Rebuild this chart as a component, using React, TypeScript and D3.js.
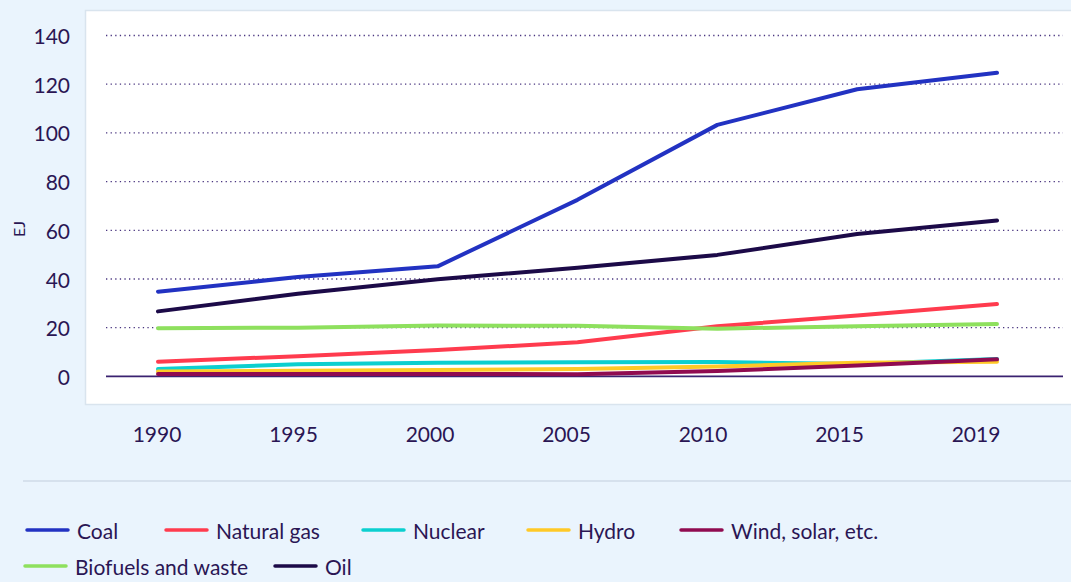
import React from "react";
import * as d3 from "d3";

const years = ["1990", "1995", "2000", "2005", "2010", "2015", "2019"];
const yTicks = [0, 20, 40, 60, 80, 100, 120, 140];

const coal = [34.8, 40.8, 45.2, 72.5, 103.3, 117.9, 124.7];
const naturalGas = [6.0, 8.3, 10.8, 14.0, 20.6, 25.0, 29.7];
const nuclear = [3.0, 5.0, 5.6, 5.8, 5.9, 5.1, 7.1];
const hydro = [2.0, 2.3, 2.6, 3.0, 4.1, 5.6, 6.0];
const windSolar = [1.0, 1.0, 1.0, 0.9, 2.2, 4.5, 7.0];
const biofuels = [19.8, 20.0, 20.9, 20.8, 19.6, 20.6, 21.5];
const oil = [26.7, 33.9, 39.9, 44.6, 49.9, 58.5, 64.0];

const series = [
  { name: "Coal", values: coal, color: "#2232c2" },
  { name: "Natural gas", values: naturalGas, color: "#ff3b4e" },
  { name: "Nuclear", values: nuclear, color: "#0ccfcf" },
  { name: "Hydro", values: hydro, color: "#ffc927" },
  { name: "Wind, solar, etc.", values: windSolar, color: "#900b50" },
  { name: "Biofuels and waste", values: biofuels, color: "#8ee05e" },
  { name: "Oil", values: oil, color: "#1c0a48" },
];

const legendRows = [
  ["Coal", "Natural gas", "Nuclear", "Hydro", "Wind, solar, etc."],
  ["Biofuels and waste", "Oil"],
];
const legendX = [
  [27, 166, 363, 528, 681],
  [25, 275],
];

const W = 1071;
const H = 582;
const TEXT = "#2a1654";
const FONT = "Lato, 'Open Sans', sans-serif";

export default function App() {
  const y = d3.scaleLinear().domain([0, 140]).range([376.4, 35.5]);
  const xData = d3.scalePoint<string>().domain(years).range([158, 997]);
  const xLabel = d3.scalePoint<string>().domain(years).range([157, 976]);
  const line = d3
    .line<number>()
    .x((_, i) => xData(years[i]) as number)
    .y((d) => y(d));

  const colorOf = (n: string) => series.find((s) => s.name === n)!.color;

  return (
    <svg
      width={W}
      height={H}
      style={{ position: "fixed", left: 0, top: 0 }}
      fontFamily={FONT}
    >
      <rect x={0} y={0} width={W} height={H} fill="#eaf4fd" />
      <rect
        x={85.5}
        y={10.5}
        width={W}
        height={394}
        fill="#ffffff"
        stroke="#d9e4ee"
        strokeWidth={1.5}
      />

      {yTicks.map((t) => (
        <g key={t}>
          {t > 0 && (
            <line
              x1={106}
              x2={1063}
              y1={y(t)}
              y2={y(t)}
              stroke="#4a3680"
              strokeWidth={1.3}
              strokeDasharray="1.3 3.3"
            />
          )}
          <text
            x={70}
            y={y(t)}
            textAnchor="end"
            dominantBaseline="central"
            fontSize={21}
            fill={TEXT}
          >
            {t}
          </text>
        </g>
      ))}

      <line x1={106} x2={1063} y1={y(0)} y2={y(0)} stroke="#3a2270" strokeWidth={1.6} />

      <text
        transform={`translate(18,229) rotate(-90)`}
        textAnchor="middle"
        dominantBaseline="central"
        fontSize={16}
        fill={TEXT}
      >
        EJ
      </text>

      {years.map((yr) => (
        <text
          key={yr}
          x={xLabel(yr)}
          y={433}
          textAnchor="middle"
          dominantBaseline="central"
          fontSize={21}
          fill={TEXT}
        >
          {yr}
        </text>
      ))}

      {series.map((s) => (
        <path
          key={s.name}
          d={line(s.values) ?? ""}
          fill="none"
          stroke={s.color}
          strokeWidth={4}
          strokeLinejoin="round"
          strokeLinecap="round"
        />
      ))}

      <line x1={23} x2={W} y1={481} y2={481} stroke="#cfdbe7" strokeWidth={1.5} />

      {legendRows.map((row, r) =>
        row.map((name, i) => {
          const lx = legendX[r][i];
          const ly = r === 0 ? 530 : 566;
          return (
            <g key={name}>
              <line
                x1={lx}
                x2={lx + 41}
                y1={ly}
                y2={ly}
                stroke={colorOf(name)}
                strokeWidth={3.5}
                strokeLinecap="round"
              />
              <text
                x={lx + 50}
                y={ly}
                dominantBaseline="central"
                fontSize={21}
                fill={TEXT}
              >
                {name}
              </text>
            </g>
          );
        })
      )}
    </svg>
  );
}
